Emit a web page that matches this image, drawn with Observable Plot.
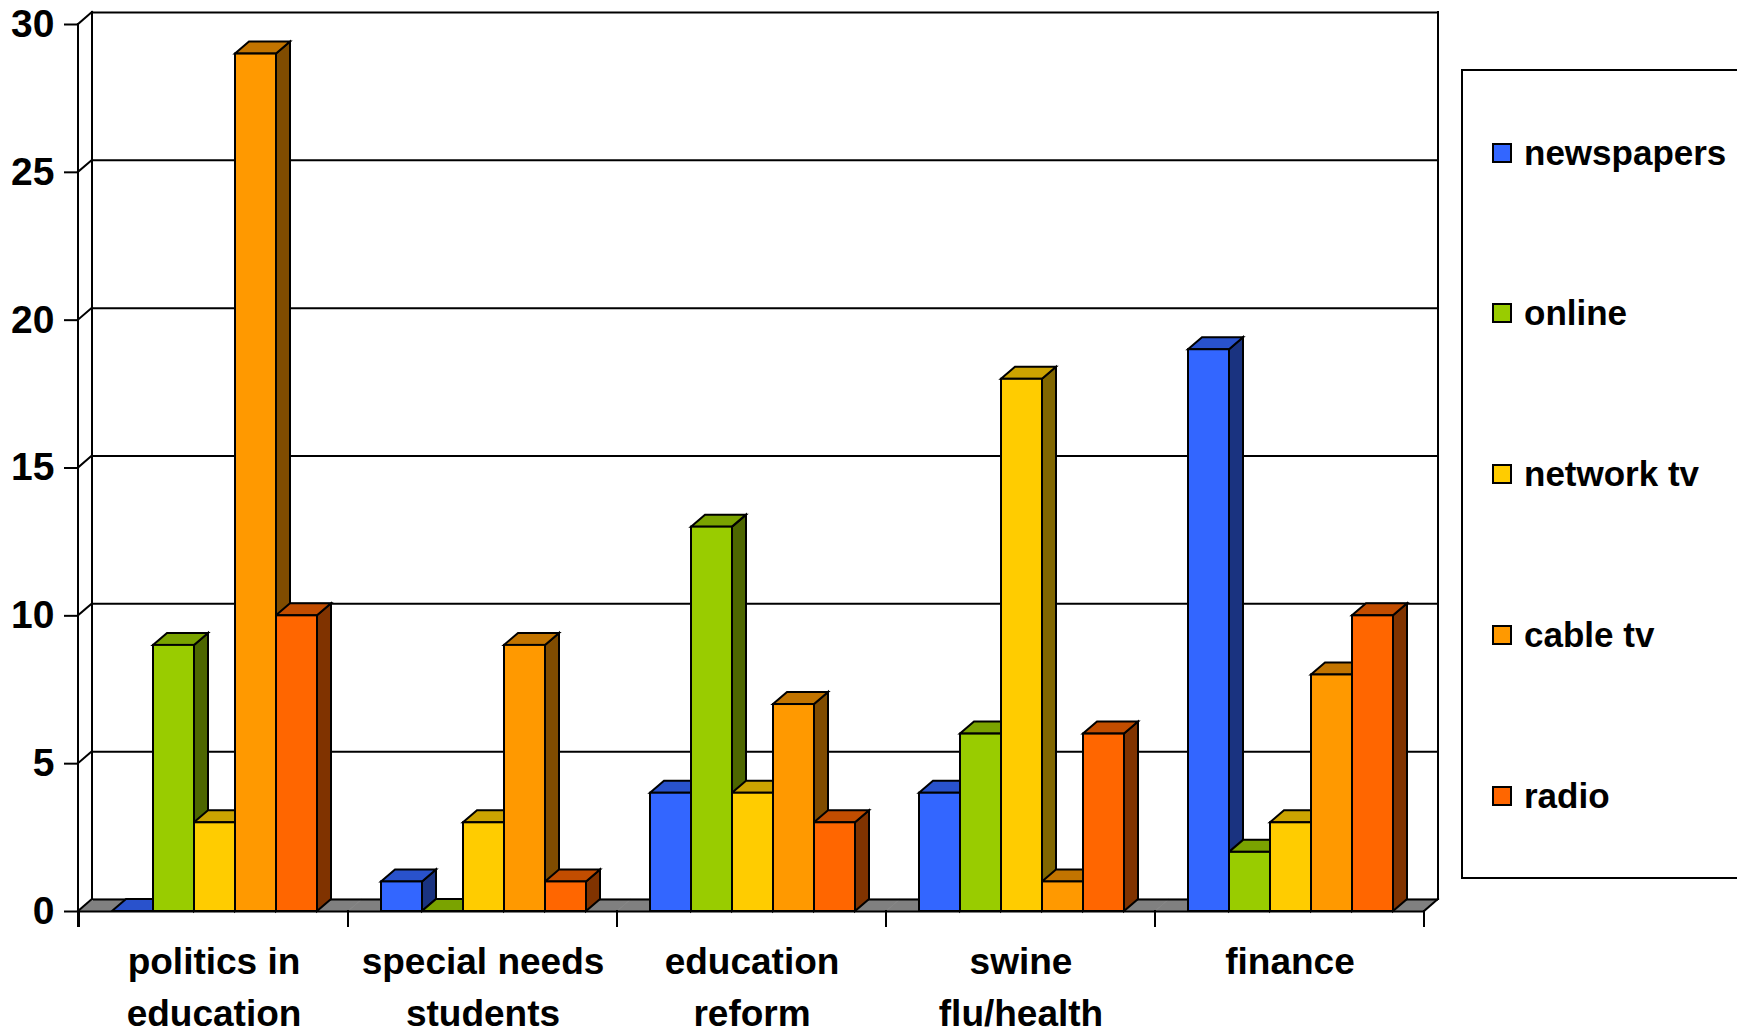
<!DOCTYPE html>
<html><head><meta charset="utf-8">
<script src="https://cdn.jsdelivr.net/npm/d3@7"></script>
<script src="https://cdn.jsdelivr.net/npm/@observablehq/plot@0.6"></script>
<style>
html,body{margin:0;padding:0;background:#fff;overflow:hidden;}
#wrap{position:relative;width:1737px;height:1034px;font-family:"Liberation Sans",Arial,sans-serif;}
#legend{position:absolute;left:1461px;top:69px;width:320px;height:810px;border:2px solid #000;box-sizing:border-box;background:#fff;}
.item{position:absolute;left:29px;height:40px;display:flex;align-items:center;font-weight:bold;font-size:35px;line-height:40px;color:#000;white-space:nowrap;}
.sw{width:20px;height:20px;border:2px solid #000;box-sizing:border-box;margin-right:12px;flex:none;}
</style></head><body><div id="wrap"><div id="chart"></div><div id="legend"></div></div>
<script>
// ---- data ----
const categories = ["politics in education", "special needs students", "education reform", "swine flu/health", "finance"];
const series = ["newspapers", "online", "network tv", "cable tv", "radio"];
const newspapers = [0, 1, 4, 4, 19];
const online = [9, 0, 13, 6, 2];
const networkTv = [3, 3, 4, 18, 3];
const cableTv = [29, 9, 7, 1, 8];
const radio = [10, 1, 3, 6, 10];
const yTicks = [0, 5, 10, 15, 20, 25, 30];
const frontColors = ["#3366ff", "#99cc00", "#ffcc00", "#ff9900", "#ff6600"];
const topColors = ["#2952cc", "#7aa300", "#cca300", "#c27400", "#c24d00"];
const sideColors = ["#1a3380", "#4d6600", "#806600", "#804c00", "#803300"];
const floorColor = "#808080";

const values = [newspapers, online, networkTv, cableTv, radio];
const rows = categories.flatMap((c, i) => series.map((s, j) => ({category: c, series: s, value: values[j][i], k: j})));

const DX = 14, DY = 12;
const font = '"Liberation Sans", Arial, sans-serif';

const barOpts = (fillArr) => ({
  fx: "category", x: "series", y1: 0, y2: "value",
  fill: d => fillArr[d.k], stroke: "#000", strokeWidth: 2
});

const plot = Plot.plot({
  width: 1737, height: 1034,
  marginLeft: 78, marginRight: 313, marginTop: 24, marginBottom: 123,
  style: {fontFamily: font, background: "transparent", color: "#000", overflow: "visible"},
  fx: {domain: categories, padding: 0},
  x: {domain: series, padding: 0, insetLeft: 32, insetRight: 31, axis: null},
  y: {domain: [0, 30]},
  color: {type: "identity"},
  marks: [
    Plot.barY(categories, {fx: d => d, y1: 0, y2: 0, fill: () => floorColor, stroke: floorColor, strokeWidth: 0.6}),
    Plot.ruleY(yTicks, {dx: DX, dy: -DY, stroke: "#000", strokeWidth: 2}),
    Plot.barY(rows, barOpts(sideColors)),
    Plot.barY(rows, barOpts(topColors)),
    Plot.barY(rows, barOpts(frontColors)),
    Plot.ruleY([0], {stroke: "#000", strokeWidth: 2}),
    Plot.axisY({ticks: yTicks, tickSize: 15, tickPadding: 10, fontSize: 39, fontWeight: "bold", strokeWidth: 2, label: null, tickFormat: d => String(d)}),
    Plot.axisFx({anchor: "bottom", tickSize: 0, tickPadding: 26, fontSize: 37, fontWeight: "bold", lineHeight: 1.405, label: null,
      tickFormat: d => d.replace(/ (\S+)$/, "\n$1")})
  ]
});

// turn side/top/floor rectangles (positioned by Plot's scales) into oblique faces
const NS = "http://www.w3.org/2000/svg";
const norm = c => (c || "").toLowerCase();
function obliquify(colors, kind) {
  plot.querySelectorAll("rect").forEach(r => {
    if (!colors.includes(norm(r.getAttribute("fill")))) return;
    const x = +r.getAttribute("x"), y = +r.getAttribute("y");
    const w = +r.getAttribute("width"), h = +r.getAttribute("height");
    const pts = kind === "side"
      ? [[x + w, y + h], [x + w, y], [x + w + DX, y - DY], [x + w + DX, y + h - DY]]
      : [[x, y], [x + w, y], [x + w + DX, y - DY], [x + DX, y - DY]];
    const p = document.createElementNS(NS, "polygon");
    p.setAttribute("points", pts.map(q => q.join(",")).join(" "));
    p.setAttribute("fill", r.getAttribute("fill"));
    for (const a of ["stroke", "stroke-width"]) if (r.hasAttribute(a)) p.setAttribute(a, r.getAttribute(a));
    p.setAttribute("stroke-linejoin", "miter");
    r.replaceWith(p);
  });
}
obliquify([floorColor], "top");
obliquify(sideColors, "side");
obliquify(topColors, "top");

// walls & axis frame drawn from Plot's scales
const fxS = plot.scale("fx"), yS = plot.scale("y");
const L = Math.min(...fxS.range), R = Math.max(...fxS.range);
const y0 = yS.apply(0), yTop = yS.apply(30);
const g = d3.select(plot).append("g").attr("stroke", "#000").attr("stroke-width", 2).attr("fill", "none").attr("stroke-linecap", "square");
const line = (x1, y1, x2, y2) => g.append("line").attr("x1", x1).attr("y1", y1).attr("x2", x2).attr("y2", y2);
line(L + DX, yTop - DY, L + DX, y0 - DY);
line(R + DX, yTop - DY, R + DX, y0 - DY);
yTicks.forEach(t => line(L, yS.apply(t), L + DX, yS.apply(t) - DY));
line(L, yTop, L, y0 + 15);
categories.map(c => fxS.apply(c)).concat([R]).forEach(b => line(b, y0, b, y0 + 15));
line(R, y0, R + DX, y0 - DY);

document.getElementById("chart").appendChild(plot);

// legend
const leg = document.getElementById("legend");
series.forEach((s, i) => {
  const it = document.createElement("div");
  it.className = "item";
  it.style.top = (81.5 + i * 160.9 - 20) + "px";
  const sw = document.createElement("div");
  sw.className = "sw"; sw.style.background = frontColors[i];
  const tx = document.createElement("span"); tx.textContent = s;
  it.appendChild(sw); it.appendChild(tx);
  leg.appendChild(it);
});
</script></body></html>
